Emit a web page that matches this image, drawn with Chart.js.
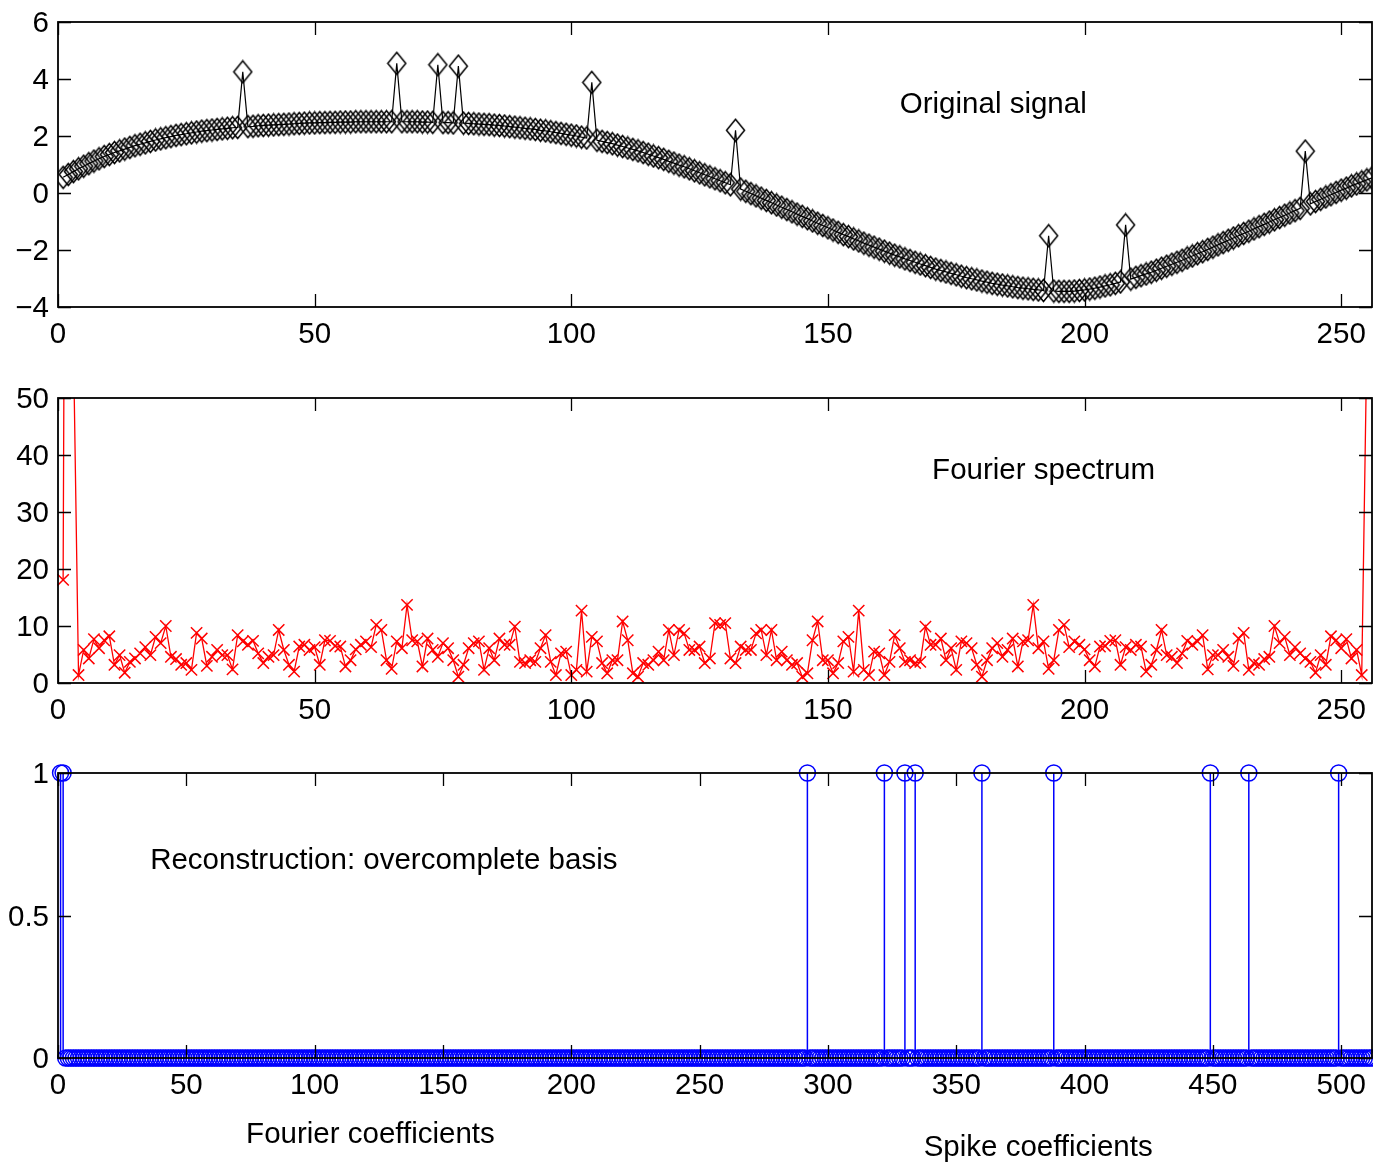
<!DOCTYPE html>
<html>
<head>
<meta charset="utf-8">
<title>Atomic decomposition</title>
<script src="https://cdn.jsdelivr.net/npm/chart.js@4.4.1/dist/chart.umd.min.js"></script>
<style>
    html, body { margin: 0; padding: 0; background: #fff; }
    #page { position: relative; width: 1373px; height: 1162px; overflow: hidden; background: #fff; }
    canvas { position: absolute; left: 0; }
</style>
</head>
<body>
<div id="page">
    <canvas id="signal-chart" width="1373" height="360" style="top:0px;width:1373px;height:360px"></canvas>
    <canvas id="spectrum-chart" width="1373" height="375" style="top:360px;width:1373px;height:375px"></canvas>
    <canvas id="coef-chart" width="1373" height="427" style="top:735px;width:1373px;height:427px"></canvas>
</div>
<script>
'use strict';

// original signal, samples 1..256 (smooth wave + 9 spikes)
var signalValues = [
    0.55, 0.65, 0.75, 0.85, 0.94, 1.03, 1.12, 1.20, 1.28, 1.35,
    1.42, 1.48, 1.54, 1.60, 1.66, 1.71, 1.76, 1.81, 1.86, 1.90,
    1.94, 1.98, 2.02, 2.05, 2.08, 2.11, 2.14, 2.17, 2.19, 2.21,
    2.23, 2.25, 2.27, 2.29, 2.30, 4.25, 2.33, 2.34, 2.36, 2.37,
    2.38, 2.39, 2.40, 2.41, 2.42, 2.43, 2.44, 2.45, 2.46, 2.46,
    2.47, 2.47, 2.48, 2.48, 2.49, 2.49, 2.49, 2.50, 2.50, 2.50,
    2.50, 2.50, 2.50, 2.50, 2.50, 4.55, 2.50, 2.50, 2.50, 2.50,
    2.49, 2.49, 2.48, 4.50, 2.47, 2.47, 2.46, 4.45, 2.45, 2.44,
    2.43, 2.42, 2.41, 2.40, 2.38, 2.37, 2.35, 2.33, 2.31, 2.29,
    2.27, 2.25, 2.23, 2.20, 2.18, 2.15, 2.12, 2.09, 2.06, 2.03,
    2.00, 1.96, 1.93, 3.88, 1.85, 1.81, 1.77, 1.73, 1.68, 1.63,
    1.58, 1.53, 1.48, 1.42, 1.36, 1.30, 1.24, 1.18, 1.11, 1.05,
    0.98, 0.92, 0.85, 0.78, 0.71, 0.64, 0.57, 0.50, 0.43, 0.36,
    0.29, 2.20, 0.14, 0.06, -0.02, -0.10, -0.18, -0.26, -0.34, -0.42,
    -0.50, -0.58, -0.66, -0.74, -0.82, -0.90, -0.98, -1.06, -1.14, -1.22,
    -1.30, -1.38, -1.46, -1.53, -1.61, -1.68, -1.76, -1.83, -1.90, -1.97,
    -2.04, -2.11, -2.18, -2.24, -2.31, -2.37, -2.43, -2.49, -2.55, -2.61,
    -2.67, -2.72, -2.77, -2.82, -2.87, -2.92, -2.97, -3.01, -3.05, -3.09,
    -3.13, -3.17, -3.20, -3.23, -3.26, -3.29, -3.32, -3.34, -3.36, -3.38,
    -3.40, -3.42, -1.50, -3.44, -3.45, -3.45, -3.45, -3.44, -3.42, -3.40,
    -3.37, -3.34, -3.30, -3.26, -3.22, -3.17, -3.12, -1.12, -3.02, -2.96,
    -2.90, -2.84, -2.78, -2.71, -2.64, -2.57, -2.50, -2.43, -2.36, -2.28,
    -2.21, -2.13, -2.06, -1.98, -1.90, -1.82, -1.74, -1.66, -1.58, -1.50,
    -1.42, -1.34, -1.26, -1.18, -1.10, -1.02, -0.94, -0.86, -0.78, -0.70,
    -0.62, -0.54, 1.47, -0.38, -0.30, -0.22, -0.14, -0.06, 0.02, 0.10,
    0.17, 0.25, 0.32, 0.39, 0.46, 0.53
];

// magnitude of the Fourier spectrum, bins 1..256 (2,3 and 255,256 run off the top)
var spectrumValues = [
    18.1, 250, 60, 1.4, 5.8, 4.3, 7.7, 6.1, 7.5, 8.2,
    3.2, 4.9, 1.8, 3.7, 4.3, 5.2, 6.3, 4.9, 8.1, 7.0,
    10.0, 4.6, 4.2, 3.2, 3.5, 2.3, 8.8, 7.8, 3.0, 4.6,
    5.8, 4.9, 4.9, 2.4, 8.4, 7.3, 6.7, 7.4, 5.2, 3.5,
    4.6, 4.9, 9.3, 5.8, 3.2, 2.0, 6.4, 6.7, 5.8, 6.3,
    3.2, 7.5, 7.4, 6.5, 6.4, 2.9, 4.0, 5.9, 6.7, 7.3,
    6.3, 10.2, 9.3, 4.0, 2.5, 7.3, 6.1, 13.7, 7.5, 7.3,
    2.9, 7.8, 5.8, 4.6, 7.0, 6.1, 4.0, 1.1, 3.2, 6.1,
    7.0, 7.3, 2.3, 6.1, 4.0, 7.8, 6.7, 6.7, 9.9, 3.7,
    3.5, 4.0, 3.7, 6.1, 8.4, 3.7, 1.4, 5.2, 5.5, 1.4,
    2.3, 12.7, 2.0, 8.1, 7.3, 3.5, 1.7, 4.0, 4.0, 10.8,
    7.5, 1.7, 1.1, 3.5, 3.2, 4.0, 5.5, 4.0, 9.3, 4.9,
    9.3, 8.7, 5.8, 5.8, 6.4, 3.5, 4.3, 10.5, 10.2, 10.5,
    4.3, 3.5, 6.4, 5.8, 5.8, 8.7, 9.3, 4.9, 9.3, 4.0,
    5.5, 4.0, 3.2, 3.5, 1.1, 1.7, 7.5, 10.8, 4.0, 4.0,
    1.7, 3.5, 7.3, 8.1, 2.0, 12.7, 2.3, 1.4, 5.5, 5.2,
    1.4, 3.7, 8.4, 6.1, 3.7, 4.0, 3.5, 3.7, 9.9, 6.7,
    6.7, 7.8, 4.0, 6.1, 2.3, 7.3, 7.0, 6.1, 3.2, 1.1,
    4.0, 6.1, 7.0, 4.6, 5.8, 7.8, 2.9, 7.3, 7.5, 13.7,
    6.1, 7.3, 2.5, 4.0, 9.3, 10.2, 6.3, 7.3, 6.7, 5.9,
    4.0, 2.9, 6.4, 6.5, 7.4, 7.5, 3.2, 6.3, 5.8, 6.7,
    6.4, 2.0, 3.2, 5.8, 9.3, 4.9, 4.6, 3.5, 5.2, 7.4,
    6.7, 7.3, 8.4, 2.4, 4.9, 4.9, 5.8, 4.6, 3.0, 7.8,
    8.8, 2.3, 3.5, 3.2, 4.2, 4.6, 10.0, 7.0, 8.1, 4.9,
    6.3, 5.2, 4.3, 3.7, 1.8, 4.9, 3.2, 8.2, 7.5, 6.1,
    7.7, 4.3, 5.8, 1.4, 60, 250
];

// overcomplete basis: 256 Fourier + 256 spike coefficients, only these equal 1
var coefCount = 512;
var fourierActive = [1, 2];
var spikeActive = [292, 322, 330, 334, 360, 388, 449, 464, 499];

var xTicksShort = { max: 256, step: 50 };
var xTicksLong = { max: 512, step: 50 };

var FONT_FAMILY = '"Liberation Sans", Arial, Helvetica, sans-serif';
var FONT_SIZE = 29.5;
var TICK_LEN = 13;

(function () {

    function formatTick(value) {
        if (value < 0) {
            return '\u2212' + Math.abs(value);
        }
        return String(value);
    }

    function makeDiamond() {
        var c = document.createElement('canvas');
        var ctx;
        c.width = 21;
        c.height = 25;
        ctx = c.getContext('2d');
        ctx.strokeStyle = '#000';
        ctx.lineWidth = 1.5;
        ctx.beginPath();
        ctx.moveTo(10.5, 1.5);
        ctx.lineTo(19.5, 12.5);
        ctx.lineTo(10.5, 23.5);
        ctx.lineTo(1.5, 12.5);
        ctx.closePath();
        ctx.stroke();
        return c;
    }

    // box round the axes, inward ticks on all four sides, and text() labels
    var matlabAxes = {
        id: 'matlabAxes',
        afterDatasetsDraw: function (chart, args, opts) {
            var a = chart.chartArea;
            var ctx = chart.ctx;
            var xs = chart.scales.x, ys = chart.scales.y;
            var i, p, lab;

            ctx.save();
            ctx.strokeStyle = '#000';
            ctx.lineWidth = 1.3;
            ctx.beginPath();
            for (i = 0; i < xs.ticks.length; i++) {
                p = Math.round(xs.getPixelForValue(xs.ticks[i].value)) + 0.5;
                ctx.moveTo(p, a.bottom);
                ctx.lineTo(p, a.bottom - TICK_LEN);
                ctx.moveTo(p, a.top);
                ctx.lineTo(p, a.top + TICK_LEN);
            }
            for (i = 0; i < ys.ticks.length; i++) {
                p = Math.round(ys.getPixelForValue(ys.ticks[i].value)) + 0.5;
                ctx.moveTo(a.left, p);
                ctx.lineTo(a.left + TICK_LEN, p);
                ctx.moveTo(a.right, p);
                ctx.lineTo(a.right - TICK_LEN, p);
            }
            ctx.stroke();

            ctx.lineWidth = 1.8;
            ctx.strokeRect(a.left, a.top, a.right - a.left, a.bottom - a.top);

            ctx.fillStyle = '#000';
            ctx.font = FONT_SIZE + 'px ' + FONT_FAMILY;
            ctx.textAlign = 'left';
            ctx.textBaseline = 'middle';
            for (i = 0; i < (opts.labels || []).length; i++) {
                lab = opts.labels[i];
                ctx.fillText(lab.text, xs.getPixelForValue(lab.x), ys.getPixelForValue(lab.y) + 2);
            }
            ctx.restore();
        }
    };

    function makeOptions(xInfo, yMin, yMax, yStep, padTop, xAxisHeight, labels) {
        var tickFont = { family: FONT_FAMILY, size: FONT_SIZE };
        return {
            responsive: false,
            animation: false,
            events: [],
            layout: { autoPadding: false, padding: { top: padTop, right: 1, bottom: 0, left: 0 } },
            scales: {
                x: {
                    type: 'linear',
                    min: 0,
                    max: xInfo.max,
                    grid: { display: false, drawTicks: false, tickLength: 0 },
                    border: { display: false },
                    ticks: {
                        stepSize: xInfo.step,
                        includeBounds: false,
                        autoSkip: false,
                        maxRotation: 0,
                        padding: 10,
                        color: '#000',
                        font: tickFont,
                        callback: formatTick
                    },
                    afterFit: function (scale) {
                        scale.height = xAxisHeight;
                        scale.paddingLeft = 0;
                        scale.paddingRight = 0;
                    }
                },
                y: {
                    type: 'linear',
                    min: yMin,
                    max: yMax,
                    grid: { display: false, drawTicks: false, tickLength: 0 },
                    border: { display: false },
                    ticks: {
                        stepSize: yStep,
                        includeBounds: false,
                        padding: 9,
                        labelOffset: 2,
                        color: '#000',
                        font: tickFont,
                        callback: formatTick
                    },
                    afterFit: function (scale) {
                        scale.width = 58;
                        scale.paddingTop = 0;
                        scale.paddingBottom = 0;
                    }
                }
            },
            plugins: {
                legend: { display: false },
                tooltip: { enabled: false },
                matlabAxes: { labels: labels }
            }
        };
    }

    function drawSignal() {
        var points = [];
        var i;
        for (i = 0; i < signalValues.length; i++) {
            points.push({ x: i + 1, y: signalValues[i] });
        }
        new Chart(document.getElementById('signal-chart'), {
            type: 'scatter',
            data: {
                datasets: [{
                    data: points,
                    showLine: true,
                    borderColor: '#000',
                    borderWidth: 1.2,
                    pointStyle: makeDiamond(),
                    pointRadius: 9,
                    pointBorderColor: '#000',
                    pointBackgroundColor: 'rgba(0,0,0,0)'
                }]
            },
            options: makeOptions(xTicksShort, -4, 6, 2, 22, 53,
                [{ text: 'Original signal', x: 164, y: 3.15 }]),
            plugins: [matlabAxes]
        });
    }

    function drawSpectrum() {
        var points = [];
        var i;
        for (i = 0; i < spectrumValues.length; i++) {
            points.push({ x: i + 1, y: spectrumValues[i] });
        }
        new Chart(document.getElementById('spectrum-chart'), {
            type: 'scatter',
            data: {
                datasets: [{
                    data: points,
                    showLine: true,
                    clip: { left: 8, right: 8, top: 0, bottom: 8 },
                    borderColor: '#f00',
                    borderWidth: 1.3,
                    pointStyle: 'crossRot',
                    pointRadius: 8,
                    pointBorderWidth: 1.5,
                    pointBorderColor: '#f00'
                }]
            },
            options: makeOptions(xTicksShort, 0, 50, 10, 38, 52,
                [{ text: 'Fourier spectrum', x: 170.3, y: 37.6 }]),
            plugins: [matlabAxes]
        });
    }

    function drawCoefficients() {
        var coefs = [];
        var markers = [];
        var stems = [];
        var i;

        for (i = 0; i < coefCount; i++) {
            coefs.push(0);
        }
        fourierActive.forEach(function (k) { coefs[k - 1] = 1; });
        spikeActive.forEach(function (k) { coefs[k - 1] = 1; });

        for (i = 0; i < coefCount; i++) {
            markers.push({ x: i + 1, y: coefs[i] });
            if (coefs[i] !== 0) {
                stems.push({ x: i + 1, y: 0 });
                stems.push({ x: i + 1, y: coefs[i] });
                stems.push({ x: i + 1, y: null });
            }
        }

        new Chart(document.getElementById('coef-chart'), {
            type: 'scatter',
            data: {
                datasets: [{
                    data: stems,
                    showLine: true,
                    spanGaps: false,
                    borderColor: '#00f',
                    borderWidth: 1.5,
                    pointRadius: 0
                }, {
                    data: markers,
                    showLine: false,
                    clip: false,
                    pointStyle: 'circle',
                    pointRadius: 8,
                    pointBorderWidth: 1.5,
                    pointBorderColor: '#00f',
                    pointBackgroundColor: 'rgba(0,0,0,0)'
                }]
            },
            options: makeOptions(xTicksLong, 0, 1, 0.5, 38, 104, [
                { text: 'Reconstruction: overcomplete basis', x: 35.9, y: 0.70 },
                { text: 'Fourier coefficients', x: 73.3, y: -0.263 },
                { text: 'Spike coefficients', x: 337.3, y: -0.309 }
            ]),
            plugins: [matlabAxes]
        });
    }

    drawSignal();
    drawSpectrum();
    drawCoefficients();
})();
</script>
</body>
</html>
